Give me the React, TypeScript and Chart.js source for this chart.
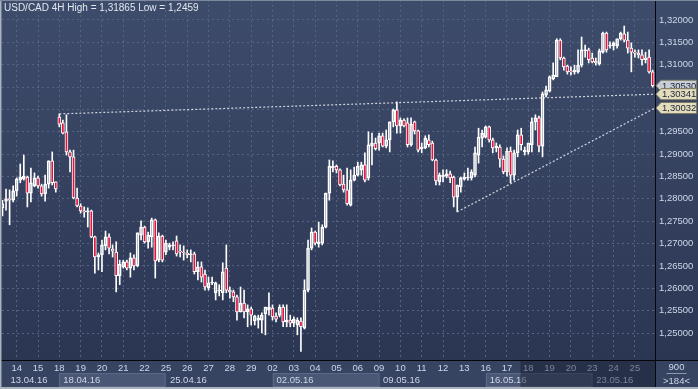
import React, { useEffect, useRef } from 'react';
import { Chart, registerables } from 'chart.js';

Chart.register(...registerables);

// ---- USD/CAD 4H candles (13.04.16 – 25.05.16) ----
const opens = [
  1.2780, 1.2795, 1.2800, 1.2797,
  1.2818, 1.2842, 1.2844, 1.2849, 1.2813, 1.2829,
  1.2847, 1.2829, 1.2811, 1.2833, 1.2885, 1.2838,
  1.2983, 1.2970, 1.2950, 1.2905, 1.2894, 1.2802,
  1.2784, 1.2773, 1.2771, 1.2773, 1.2715, 1.2670,
  1.2675, 1.2695, 1.2715, 1.2688, 1.2681, 1.2628,
  1.2648, 1.2659, 1.2645, 1.2668, 1.2650, 1.2719,
  1.2737, 1.2704, 1.2715, 1.2753, 1.2663, 1.2717,
  1.2681, 1.2692, 1.2695, 1.2706, 1.2683, 1.2681,
  1.2679, 1.2675, 1.2677, 1.2637, 1.2648, 1.2632,
  1.2601, 1.2612, 1.2590, 1.2594, 1.2590, 1.2645,
  1.2596, 1.2592, 1.2581, 1.2547, 1.2567, 1.2547,
  1.2554, 1.2527, 1.2529, 1.2529, 1.2543, 1.2552,
  1.2556, 1.2538, 1.2540, 1.2558, 1.2525, 1.2529,
  1.2522, 1.2518, 1.2527, 1.2511, 1.2596, 1.2690,
  1.2726, 1.2699, 1.2701, 1.2737, 1.2813, 1.2869,
  1.2873, 1.2865, 1.2833, 1.2820, 1.2786, 1.2842,
  1.2853, 1.2865, 1.2876, 1.2847, 1.2918, 1.2925,
  1.2925, 1.2941, 1.2918, 1.2932, 1.2972, 1.2999,
  1.2963, 1.2976, 1.2970, 1.2921, 1.2972, 1.2952,
  1.2912, 1.2914, 1.2932, 1.2925, 1.2887, 1.2838,
  1.2849, 1.2851, 1.2856, 1.2849, 1.2804, 1.2827,
  1.2844, 1.2847, 1.2847, 1.2853, 1.2898, 1.2936,
  1.2938, 1.2961, 1.2932, 1.2914, 1.2916, 1.2889,
  1.2860, 1.2907, 1.2853, 1.2903, 1.2943, 1.2905,
  1.2905, 1.2921, 1.2972, 1.2981, 1.2918, 1.3032,
  1.3041, 1.3068, 1.3073, 1.3155, 1.3115, 1.3097,
  1.3086, 1.3084, 1.3084, 1.3099, 1.3131, 1.3133,
  1.3115, 1.3108, 1.3102, 1.3128, 1.3171, 1.3142,
  1.3142, 1.3142, 1.3158, 1.3169, 1.3155, 1.3137,
  1.3128, 1.3126, 1.3122, 1.3111, 1.3117, 1.3084,
];
const highs = [
  1.2797, 1.2822, 1.2820, 1.2829,
  1.2847, 1.2878, 1.2898, 1.2851, 1.2869, 1.2858,
  1.2851, 1.2833, 1.2853, 1.2885, 1.2905, 1.2838,
  1.2990, 1.2976, 1.2988, 1.2909, 1.2909, 1.2824,
  1.2789, 1.2782, 1.2780, 1.2775, 1.2717, 1.2679,
  1.2708, 1.2728, 1.2722, 1.2697, 1.2704, 1.2663,
  1.2663, 1.2663, 1.2679, 1.2675, 1.2724, 1.2751,
  1.2739, 1.2726, 1.2757, 1.2755, 1.2724, 1.2719,
  1.2708, 1.2701, 1.2704, 1.2717, 1.2697, 1.2695,
  1.2686, 1.2686, 1.2681, 1.2659, 1.2659, 1.2641,
  1.2625, 1.2625, 1.2614, 1.2608, 1.2657, 1.2697,
  1.2603, 1.2596, 1.2585, 1.2603, 1.2596, 1.2563,
  1.2558, 1.2540, 1.2540, 1.2545, 1.2558, 1.2590,
  1.2563, 1.2545, 1.2563, 1.2563, 1.2563, 1.2540,
  1.2536, 1.2534, 1.2534, 1.2619, 1.2708, 1.2735,
  1.2728, 1.2748, 1.2742, 1.2813, 1.2887, 1.2885,
  1.2876, 1.2867, 1.2853, 1.2869, 1.2865, 1.2871,
  1.2882, 1.2882, 1.2903, 1.2950, 1.2947, 1.2936,
  1.2947, 1.2947, 1.2954, 1.2972, 1.3001, 1.3017,
  1.2981, 1.2979, 1.2981, 1.2981, 1.2974, 1.2954,
  1.2925, 1.2941, 1.2943, 1.2929, 1.2889, 1.2858,
  1.2865, 1.2865, 1.2862, 1.2851, 1.2831, 1.2849,
  1.2858, 1.2869, 1.2865, 1.2916, 1.2958, 1.2954,
  1.2963, 1.2963, 1.2936, 1.2925, 1.2921, 1.2896,
  1.2914, 1.2916, 1.2909, 1.2954, 1.2958, 1.2916,
  1.2925, 1.2981, 1.2988, 1.2985, 1.3039, 1.3052,
  1.3075, 1.3104, 1.3158, 1.3158, 1.3117, 1.3099,
  1.3095, 1.3099, 1.3133, 1.3162, 1.3144, 1.3137,
  1.3126, 1.3115, 1.3135, 1.3173, 1.3173, 1.3151,
  1.3151, 1.3158, 1.3173, 1.31865, 1.3173, 1.3149,
  1.3133, 1.3133, 1.3133, 1.3128, 1.3133, 1.3088,
];
const lows = [
  1.2762, 1.2775, 1.2742, 1.2793,
  1.2806, 1.2836, 1.2842, 1.2782, 1.2793, 1.2827,
  1.2824, 1.2806, 1.2795, 1.2824, 1.2831, 1.2815,
  1.2961, 1.2945, 1.2898, 1.2860, 1.2800, 1.2782,
  1.2768, 1.2759, 1.2737, 1.2713, 1.2634, 1.2641,
  1.2637, 1.2686, 1.2677, 1.2670, 1.2592, 1.2608,
  1.2645, 1.2641, 1.2625, 1.2641, 1.2648, 1.2708,
  1.2701, 1.2690, 1.2692, 1.2623, 1.2659, 1.2659,
  1.2675, 1.2686, 1.2686, 1.2672, 1.2670, 1.2663,
  1.2668, 1.2659, 1.2632, 1.2619, 1.2614, 1.2596,
  1.2596, 1.2608, 1.2574, 1.2583, 1.2574, 1.2590,
  1.2578, 1.2570, 1.2529, 1.2547, 1.2534, 1.2514,
  1.2518, 1.2518, 1.2511, 1.2500, 1.2496, 1.2540,
  1.2529, 1.2525, 1.2536, 1.2514, 1.2514, 1.2514,
  1.2514, 1.2496, 1.2459, 1.2509, 1.2592, 1.2686,
  1.2697, 1.2692, 1.2697, 1.2735, 1.2797, 1.2860,
  1.2858, 1.2829, 1.2815, 1.2786, 1.2784, 1.2840,
  1.2851, 1.2853, 1.2838, 1.2842, 1.2876, 1.2909,
  1.2909, 1.2916, 1.2914, 1.2905, 1.2961, 1.2947,
  1.2947, 1.2961, 1.2916, 1.2918, 1.2945, 1.2905,
  1.2903, 1.2912, 1.2916, 1.2885, 1.2831, 1.2831,
  1.2838, 1.2847, 1.2836, 1.2782, 1.2771, 1.2815,
  1.2842, 1.2842, 1.2842, 1.2849, 1.2880, 1.2916,
  1.2936, 1.2927, 1.2903, 1.2905, 1.2871, 1.2856,
  1.2851, 1.2836, 1.2842, 1.2894, 1.2909, 1.2898,
  1.2900, 1.2905, 1.2954, 1.2905, 1.2894, 1.3028,
  1.3039, 1.3066, 1.3073, 1.3111, 1.3088, 1.3079,
  1.3077, 1.3079, 1.3081, 1.3095, 1.3117, 1.3104,
  1.3104, 1.3099, 1.3099, 1.3126, 1.3128, 1.3137,
  1.3133, 1.3137, 1.3155, 1.3151, 1.3126, 1.3084,
  1.3117, 1.3115, 1.3099, 1.3104, 1.3081, 1.3050,
];
const closes = [
  1.2789, 1.2800, 1.2797, 1.2818,
  1.2844, 1.2849, 1.2851, 1.2813, 1.2836, 1.2847,
  1.2829, 1.2811, 1.2833, 1.2885, 1.2836, 1.2822,
  1.2967, 1.2947, 1.2905, 1.2894, 1.2802, 1.2784,
  1.2773, 1.2771, 1.2773, 1.2715, 1.2670, 1.2675,
  1.2697, 1.2715, 1.2690, 1.2683, 1.2628, 1.2654,
  1.2659, 1.2645, 1.2668, 1.2650, 1.2724, 1.2737,
  1.2704, 1.2719, 1.2753, 1.2661, 1.2717, 1.2663,
  1.2701, 1.2697, 1.2697, 1.2677, 1.2681, 1.2679,
  1.2675, 1.2677, 1.2637, 1.2648, 1.2625, 1.2603,
  1.2612, 1.2614, 1.2612, 1.2596, 1.2637, 1.2596,
  1.2592, 1.2581, 1.2547, 1.2567, 1.2547, 1.2554,
  1.2540, 1.2538, 1.2534, 1.2540, 1.2558, 1.2558,
  1.2536, 1.2531, 1.2558, 1.2525, 1.2529, 1.2522,
  1.2531, 1.2529, 1.2514, 1.2596, 1.2690, 1.2726,
  1.2701, 1.2704, 1.2737, 1.2813, 1.2873, 1.2873,
  1.2865, 1.2831, 1.2820, 1.2789, 1.2842, 1.2853,
  1.2873, 1.2876, 1.2842, 1.2921, 1.2925, 1.2912,
  1.2941, 1.2918, 1.2932, 1.2972, 1.2999, 1.2963,
  1.2976, 1.2963, 1.2921, 1.2967, 1.2952, 1.2909,
  1.2916, 1.2936, 1.2921, 1.2887, 1.2840, 1.2853,
  1.2853, 1.2856, 1.2847, 1.2804, 1.2831, 1.2847,
  1.2849, 1.2849, 1.2860, 1.2903, 1.2938, 1.2947,
  1.2961, 1.2932, 1.2914, 1.2918, 1.2889, 1.2860,
  1.2907, 1.2853, 1.2903, 1.2943, 1.2921, 1.2909,
  1.2925, 1.2972, 1.2981, 1.2918, 1.3035, 1.3044,
  1.3073, 1.3077, 1.3155, 1.3115, 1.3095, 1.3084,
  1.3084, 1.3088, 1.3099, 1.3133, 1.3133, 1.3111,
  1.3106, 1.3104, 1.3131, 1.3171, 1.3133, 1.3144,
  1.3149, 1.3158, 1.3171, 1.3155, 1.3137, 1.3128,
  1.3126, 1.3122, 1.3111, 1.3115, 1.3084, 1.3053,
];

// ---- axes ----
const dayLabels = ['14', '15', '18', '19', '20', '21', '22', '25', '26', '27', '28', '29', '02', '03', '04', '05', '06', '09', '10', '11', '12', '13', '16', '17', '18', '19', '20', '23', '24', '25'];
const dayStartBars = [4, 10, 16, 22, 28, 34, 40, 46, 52, 58, 64, 70, 76, 82, 88, 94, 100, 106, 112, 118, 124, 130, 136, 142, 148, 154, 160, 166, 172, 178];
const weekLabels = ['13.04.16', '18.04.16', '25.04.16', '02.05.16', '09.05.16', '16.05.16', '23.05.16'];
const weekStartBars = [0, 16, 46, 76, 106, 136, 166];
const yTicks = [1.25, 1.255, 1.26, 1.265, 1.27, 1.275, 1.28, 1.285, 1.29, 1.295, 1.30, 1.305, 1.31, 1.315, 1.32];
const X_MIN = -0.137;
const X_MAX = 183.66;
const Y_MIN = 1.24397;
const Y_MAX = 1.32447;

// ---- trend lines and price tags ----
const trendUpper = [{ x: 16, y: 1.2990 }, { x: X_MAX, y: 1.30341 }];
const trendLower = [{ x: 128, y: 1.2771 }, { x: X_MAX, y: 1.30032 }];
const tagValues = [1.30530, 1.30341, 1.30032];
const tagFills = ['#c9cdd4', '#e3ddbd', '#e3ddbd'];

const FONT = "'Liberation Sans', Arial, sans-serif";
const RED = '#e3143c';
const TEXT = '#cdd7e8';
const GRID = '#566381';

const fmt = (v: number, d = 5) => v.toFixed(d).replace('.', ',');

export default function App() {
  const ref = useRef<HTMLCanvasElement>(null);

  useEffect(() => {
    const canvas = ref.current;
    if (!canvas) return;
    const idx = opens.map((_, i) => i);
    const bodies = idx.map((i) => ({ x: i, y: [opens[i], closes[i]] }));
    const upperWicks = idx.map((i) => ({ x: i, y: [Math.max(opens[i], closes[i]), highs[i]] }));
    const lowerWicks = idx.map((i) => ({ x: i, y: [lows[i], Math.min(opens[i], closes[i])] }));
    const hi = Math.max(...highs);
    const lo = Math.min(...lows);

    const bgPlugin = {
      id: 'bg',
      beforeDraw(chart: any) {
        const { ctx, width, height, chartArea: ca } = chart;
        const xs = chart.scales.x;
        ctx.save();
        const g = ctx.createLinearGradient(0, 0, 0, ca.bottom);
        g.addColorStop(0, '#3e4c6b');
        g.addColorStop(1, '#2b3653');
        ctx.fillStyle = g;
        ctx.fillRect(0, 0, width, ca.bottom);
        ctx.fillStyle = '#364361';
        ctx.fillRect(0, ca.bottom, width, height - ca.bottom);
        weekStartBars.forEach((b, k) => {
          if (k % 2 === 1) {
            const x0 = xs.getPixelForValue(b);
            const x1 = k + 1 < weekStartBars.length ? xs.getPixelForValue(weekStartBars[k + 1]) : ca.right;
            ctx.fillStyle = '#4a5775';
            ctx.fillRect(x0, 373, x1 - x0, 14);
            ctx.strokeStyle = '#5b6886';
            ctx.lineWidth = 1;
            ctx.strokeRect(Math.round(x0) + 0.5, 373.5, x1 - x0 - 1, 13);
          }
        });
        ctx.restore();
      },
      afterDraw(chart: any) {
        const { ctx, width, height, chartArea: ca } = chart;
        const xs = chart.scales.x;
        const ys = chart.scales.y;
        ctx.save();
        // week labels
        ctx.font = `9.5px ${FONT}`;
        ctx.fillStyle = TEXT;
        ctx.textAlign = 'left';
        ctx.textBaseline = 'middle';
        weekStartBars.forEach((b, k) => {
          const x = Math.max(xs.getPixelForValue(b) + 4, 10.5);
          ctx.fillText(weekLabels[k], x, 380);
        });
        // dimmed scroll overlay
        ctx.fillStyle = 'rgba(20,26,42,0.45)';
        ctx.fillRect(520.5, ca.bottom + 1, ca.right - 520.5, height - ca.bottom - 3);
        // separators
        ctx.strokeStyle = '#05070c';
        ctx.lineWidth = 1;
        ctx.beginPath();
        ctx.moveTo(0, ca.bottom + 0.5);
        ctx.lineTo(width, ca.bottom + 0.5);
        ctx.moveTo(ca.right + 0.5, 0);
        ctx.lineTo(ca.right + 0.5, height - 2);
        ctx.stroke();
        // frame
        ctx.fillStyle = '#aab2be';
        ctx.fillRect(0, height - 2, width, 2);
        ctx.fillRect(0, 0, 1.5, height);
        ctx.fillStyle = '#7d889e';
        ctx.fillRect(0, 0, width, 1);
        // corner
        const cx = (ca.right + width) / 2;
        ctx.fillStyle = TEXT;
        ctx.textAlign = 'center';
        ctx.fillText('900', cx, 367);
        ctx.fillText('>' + opens.length + '<', cx, 381);
        ctx.strokeStyle = '#8d98ad';
        ctx.beginPath();
        ctx.moveTo(cx - 10, 373.5);
        ctx.lineTo(cx + 10, 373.5);
        ctx.stroke();
        // title
        ctx.textAlign = 'left';
        ctx.fillStyle = '#e1e7f0';
        ctx.font = `10px ${FONT}`;
        ctx.fillText(`USD/CAD 4H High = ${fmt(hi, 5)} Low = ${String(lo).replace('.', ',')}`, 4, 8.5);
        // price tags
        tagValues.forEach((v, k) => {
          const y = ys.getPixelForValue(v);
          const x0 = ca.right + 1;
          ctx.beginPath();
          ctx.moveTo(x0, y);
          ctx.lineTo(x0 + 5, y - 5.5);
          ctx.lineTo(width - 1.5, y - 5.5);
          ctx.lineTo(width - 1.5, y + 5.5);
          ctx.lineTo(x0 + 5, y + 5.5);
          ctx.closePath();
          ctx.fillStyle = tagFills[k];
          ctx.fill();
          ctx.strokeStyle = '#7f7c66';
          ctx.lineWidth = 1;
          ctx.stroke();
          ctx.fillStyle = '#1b2338';
          ctx.font = `9.5px ${FONT}`;
          ctx.fillText(fmt(v), x0 + 6, y + 0.5);
        });
        ctx.restore();
      },
    };

    const chart = new Chart(canvas, {
      type: 'bar',
      data: {
        datasets: [
          {
            type: 'line',
            data: trendUpper,
            borderColor: 'rgba(225,228,234,0.9)',
            borderWidth: 1.2,
            borderDash: [2, 2],
            pointRadius: 0,
            order: 0,
          } as any,
          {
            type: 'line',
            data: trendLower,
            borderColor: 'rgba(225,228,234,0.9)',
            borderWidth: 1.2,
            borderDash: [2, 2],
            pointRadius: 0,
            order: 0,
          } as any,
          {
            data: bodies,
            backgroundColor: idx.map((i) => (closes[i] < opens[i] ? RED : 'rgba(0,0,0,0)')),
            borderColor: '#ffffff',
            borderWidth: 1,
            borderSkipped: false,
            barThickness: 3,
            grouped: false,
            order: 1,
          } as any,
          {
            data: upperWicks,
            backgroundColor: '#ffffff',
            borderWidth: 0,
            barThickness: 1,
            grouped: false,
            order: 2,
          } as any,
          {
            data: lowerWicks,
            backgroundColor: '#ffffff',
            borderWidth: 0,
            barThickness: 1,
            grouped: false,
            order: 2,
          } as any,
        ],
      },
      options: {
        responsive: false,
        animation: false,
        devicePixelRatio: 1,
        events: [],
        layout: { padding: { left: 2, top: 0, right: 0, bottom: 0 } },
        plugins: { legend: { display: false }, tooltip: { enabled: false } },
        scales: {
          x: {
            type: 'linear',
            min: X_MIN,
            max: X_MAX,
            offset: false,
            afterBuildTicks: (s: any) => {
              s.ticks = dayStartBars.map((v) => ({ value: v }));
            },
            afterFit: (s: any) => {
              s.height = 29;
              s.paddingLeft = 0;
              s.paddingRight = 0;
            },
            ticks: {
              autoSkip: false,
              maxRotation: 0,
              minRotation: 0,
              padding: 3,
              color: TEXT,
              font: { family: FONT, size: 9.5 },
              callback: (v: any) => {
                const k = dayStartBars.indexOf(Number(v));
                return k >= 0 ? dayLabels[k] : '';
              },
            },
            grid: { color: GRID, drawTicks: false, offset: false, borderDash: [2, 3] } as any,
            border: { display: false, dash: [2, 3] },
          },
          y: {
            type: 'linear',
            position: 'right',
            min: Y_MIN,
            max: Y_MAX,
            beginAtZero: false,
            afterBuildTicks: (s: any) => {
              s.ticks = yTicks.map((v) => ({ value: v }));
            },
            afterFit: (s: any) => {
              s.width = 43;
              s.paddingTop = 0;
              s.paddingBottom = 0;
            },
            ticks: {
              padding: 4,
              color: TEXT,
              font: { family: FONT, size: 9.5 },
              callback: (v: any) => fmt(Number(v)),
            },
            grid: { color: GRID, drawTicks: false, borderDash: [2, 3] } as any,
            border: { display: false, dash: [2, 3] },
          },
        },
      } as any,
      plugins: [bgPlugin],
    });
    return () => chart.destroy();
  }, []);

  return (
    <div style={{ position: 'fixed', left: 0, top: 0, width: 698, height: 389 }}>
      <canvas ref={ref} width={698} height={389} style={{ display: 'block', width: 698, height: 389 }} />
    </div>
  );
}
